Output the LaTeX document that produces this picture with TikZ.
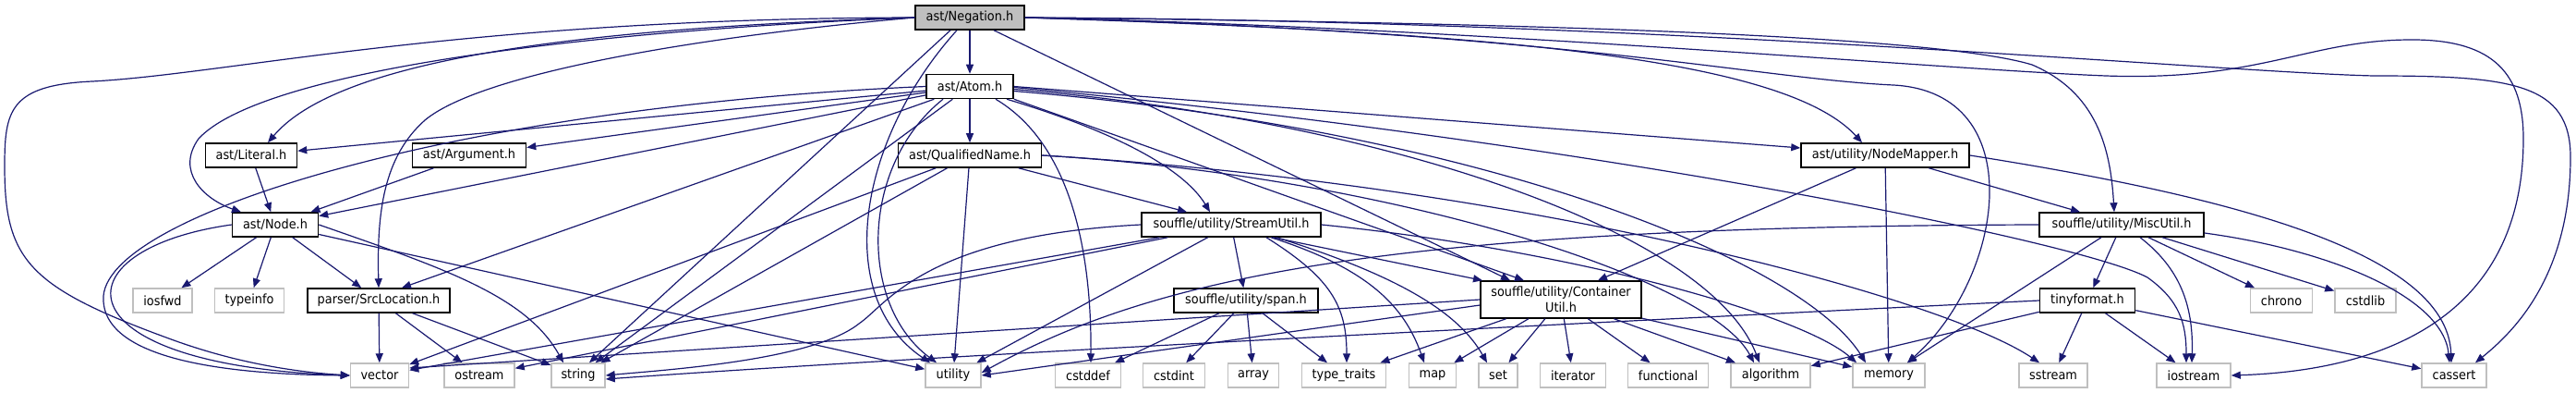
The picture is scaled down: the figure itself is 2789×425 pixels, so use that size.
\documentclass[tikz,border=0pt]{standalone}
\usepackage{fontspec}
\setmainfont{DejaVu Sans}[FakeStretch=0.92]
\usepackage{tikz}
\usetikzlibrary{arrows.meta}
\definecolor{edgeblue}{HTML}{191970}
\definecolor{leafgrey}{HTML}{BFBFBF}
\definecolor{rootgrey}{HTML}{BFBFBF}
\tikzset{
  hdr/.style={draw=black, fill=white, line width=1.5pt, minimum height=26pt, inner sep=0pt,
              align=center, font=\fontsize{14}{17}\selectfont},
  leaf/.style={hdr, draw=leafgrey},
  root/.style={hdr, fill=rootgrey},
  dep/.style={-{Triangle[length=10pt,width=8pt]}, line width=1.2pt, edgeblue},
}

\begin{document}
\begin{tikzpicture}[x=1pt, y=-1pt]
    \useasboundingbox (0,0) rectangle (2789,425);
    \fill[white] (0,0) rectangle (2789,425);

    \node[root, minimum width=118pt] (neg) at (1050,19) {ast/Negation.h};
    \node[hdr, minimum width=94pt] (atom) at (1050,93.5) {ast/Atom.h};

    \node[hdr, minimum width=99pt] (lit) at (272,168) {ast/Literal.h};
    \node[hdr, minimum width=123pt] (arg) at (508,168) {ast/Argument.h};
    \node[hdr, minimum width=155pt] (qn) at (1050,168) {ast/QualifiedName.h};
    \node[hdr, minimum width=182pt] (nm) at (2041,168) {ast/utility/NodeMapper.h};

    \node[hdr, minimum width=93pt] (node) at (298,243) {ast/Node.h};
    \node[hdr, minimum width=194pt] (su) at (1333,243) {souffle/utility/StreamUtil.h};
    \node[hdr, minimum width=178pt] (mu) at (2297,243) {souffle/utility/MiscUtil.h};

    \node[leaf, minimum width=64pt] (iosfwd) at (176,325) {iosfwd};
    \node[leaf, minimum width=75pt] (typeinfo) at (270,325) {typeinfo};
    \node[hdr, minimum width=154pt] (sl) at (410,325) {parser/SrcLocation.h};
    \node[hdr, minimum width=156pt] (span) at (1349,325) {souffle/utility/span.h};
    \node[hdr, minimum width=174pt, minimum height=40pt] (cu) at (1690,324) {souffle/utility/Container\\Util.h};
    \node[hdr, minimum width=103pt] (tf) at (2260,325) {tinyformat.h};
    \node[leaf, minimum width=67pt] (chrono) at (2470,325) {chrono};
    \node[leaf, minimum width=66pt] (cstdlib) at (2561,325) {cstdlib};

    \node[leaf, minimum width=63pt] (vector) at (411,406) {vector};
    \node[leaf, minimum width=76pt] (ostream) at (519,406) {ostream};
    \node[leaf, minimum width=58pt] (string) at (626,406) {string};
    \node[leaf, minimum width=60pt] (utility) at (1032,406) {utility};
    \node[leaf, minimum width=71pt] (cstddef) at (1178,406) {cstddef};
    \node[leaf, minimum width=67pt] (cstdint) at (1271,406) {cstdint};
    \node[leaf, minimum width=55pt] (array) at (1357,406) {array};
    \node[leaf, minimum width=91pt] (typetraits) at (1455,406) {type\_traits};
    \node[leaf, minimum width=51pt] (map) at (1551,406) {map};
    \node[leaf, minimum width=42pt] (set) at (1622,406) {set};
    \node[leaf, minimum width=71pt] (iterator) at (1703,406) {iterator};
    \node[leaf, minimum width=87pt] (functional) at (1806,406) {functional};
    \node[leaf, minimum width=86pt] (algorithm) at (1917,406) {algorithm};
    \node[leaf, minimum width=78pt] (memory) at (2045,406) {memory};
    \node[leaf, minimum width=74pt] (sstream) at (2223,406) {sstream};
    \node[leaf, minimum width=80pt] (iostream) at (2375,406) {iostream};
    \node[leaf, minimum width=70pt] (cassert) at (2657,406) {cassert};

    \draw[dep] (neg) -- (atom);
    \draw[dep] (neg.west) .. controls (650,30) and (370,60) .. ([xshift=18pt]lit.north);
    \draw[dep] (neg.west) .. controls (600,35) and (280,80) .. (215,150) .. controls (190,185) and (220,215) .. ([xshift=-37pt]node.north);
    \draw[dep] (neg.west) .. controls (750,40) and (520,80) .. (460,130) .. controls (415,170) and (408,230) .. (sl.north);
    \draw[dep] (neg.west) .. controls (500,20) and (250,80) .. (100,88) .. controls (10,92) and (5,120) .. (5,180) .. controls (5,280) and (30,310) .. (180,365) .. controls (260,395) and (330,403) .. (vector.west);
    \draw[dep] ([xshift=-21pt]neg.south) -- ([xshift=12pt]string.north);
    \draw[dep] ([xshift=-14pt]neg.south) .. controls (930,150) and (900,320) .. ([xshift=-25pt]utility.north);
    \draw[dep] ([xshift=26pt]neg.south) -- ([xshift=-55pt]cu.north);
    \draw[dep] (neg.east) .. controls (1600,35) and (1930,60) .. ([xshift=-25pt]nm.north);
    \draw[dep] (neg.east) .. controls (1700,25) and (2100,40) .. (2200,70) .. controls (2270,100) and (2285,160) .. ([xshift=-8pt]mu.north);
    \draw[dep] (neg.east) .. controls (1700,35) and (1900,85) .. (2050,92) .. controls (2200,100) and (2170,300) .. ([xshift=20pt]memory.north);
    \draw[dep] (neg.east) .. controls (1600,30) and (2100,75) .. (2280,82) .. controls (2450,88) and (2500,42) .. (2615,43) .. controls (2700,44) and (2732,80) .. (2732,150) .. controls (2732,330) and (2600,400) .. (iostream.east);
    \draw[dep] (neg.east) .. controls (1800,22) and (2400,78) .. (2570,82) .. controls (2720,82) and (2783,90) .. (2783,170) .. controls (2783,300) and (2720,360) .. ([xshift=23pt]cassert.north);

    \draw[dep] (atom) -- (qn);
    \draw[dep] (atom) -- (lit);
    \draw[dep] (atom) -- (arg);
    \draw[dep] (atom) -- (node);
    \draw[dep] (atom) -- ([xshift=25pt]sl.north);
    \draw[dep] (atom.west) .. controls (500,115) and (120,230) .. (112,320) .. controls (108,390) and (250,405) .. (vector.west);
    \draw[dep] (atom) -- (string);
    \draw[dep] ([xshift=-29pt]atom.south) .. controls (930,180) and (930,330) .. ([xshift=-18pt]utility.north);
    \draw[dep] ([xshift=28pt]atom.south) .. controls (1150,150) and (1182,250) .. ([xshift=3pt]cstddef.north);
    \draw[dep] ([xshift=40pt]atom.south) .. controls (1200,140) and (1280,180) .. ([xshift=-23pt]su.north);
    \draw[dep] (atom.south east) -- ([xshift=-40pt]cu.north);
    \draw[dep] (atom.east) -- ([yshift=8pt]nm.west);
    \draw[dep] ([yshift=-3pt]atom.east) .. controls (1500,130) and (1850,250) .. ([xshift=-12pt]algorithm.north);
    \draw[dep] ([yshift=-5pt]atom.east) .. controls (1600,140) and (1950,280) .. ([xshift=-25pt]memory.north);
    \draw[dep] ([yshift=-1pt]atom.east) .. controls (1700,150) and (2250,260) .. (2325,300) .. controls (2360,325) and (2367,350) .. ([xshift=-8pt]iostream.north);

    \draw[dep] (qn) -- ([xshift=-48pt]su.north);
    \draw[dep] (qn) -- (vector);
    \draw[dep] (qn) -- (string);
    \draw[dep] (qn) -- (utility);
    \draw[dep] (qn.east) .. controls (1500,190) and (1850,300) .. ([xshift=-18pt]algorithm.north);
    \draw[dep] (qn.east) .. controls (1650,200) and (2100,320) .. ([xshift=-15pt]sstream.north);

    \draw[dep] (su) -- (span);
    \draw[dep] ([xshift=45pt]su.south) -- ([xshift=-85pt]cu.north);
    \draw[dep] ([xshift=38pt]su.south) .. controls (1440,300) and (1458,330) .. ([xshift=3pt]typetraits.north);
    \draw[dep] ([xshift=43pt]su.south) .. controls (1480,290) and (1520,330) .. ([xshift=-9pt]map.north);
    \draw[dep] ([xshift=49pt]su.south) .. controls (1520,300) and (1580,340) .. ([xshift=-12pt]set.north);
    \draw[dep] (su) -- (vector);
    \draw[dep] (su) -- (ostream);
    \draw[dep] (su) -- (utility);
    \draw[dep] (su.west) .. controls (1000,255) and (960,330) .. (930,350) .. controls (880,390) and (720,400) .. (string.east);
    \draw[dep] (su.east) .. controls (1700,270) and (1950,340) .. ([xshift=-35pt]memory.north);

    \draw[dep] (span) -- (cstddef);
    \draw[dep] (span) -- (cstdint);
    \draw[dep] (span) -- (array);
    \draw[dep] (span) -- (typetraits);

    \draw[dep] (cu) -- (typetraits);
    \draw[dep] (cu) -- (map);
    \draw[dep] (cu) -- (set);
    \draw[dep] (cu) -- (iterator);
    \draw[dep] (cu) -- (functional);
    \draw[dep] (cu) -- (algorithm);
    \draw[dep] (cu) -- (memory);
    \draw[dep] (cu.west) -- ([yshift=8pt]vector.east);
    \draw[dep] ([yshift=-6pt]cu.west) -- (utility.east);

    \draw[dep] (mu) -- (tf);
    \draw[dep] (mu) -- (chrono);
    \draw[dep] (mu) -- (cstdlib);
    \draw[dep] ([xshift=-22pt]mu.south) -- ([xshift=20pt]memory.north);
    \draw[dep] ([yshift=-9pt]mu.east) .. controls (2520,270) and (2645,320) .. ([xshift=-5pt]cassert.north);
    \draw[dep] ([xshift=20pt]mu.south) .. controls (2360,290) and (2375,330) .. ([xshift=-2pt]iostream.north);
    \draw[dep] (mu.west) .. controls (1500,245) and (1250,300) .. ([yshift=3pt]utility.east);

    \draw[dep] (tf) -- (sstream);
    \draw[dep] (tf) -- (iostream);
    \draw[dep] (tf) -- (cassert);
    \draw[dep] (tf) -- (algorithm);
    \draw[dep] (tf.west) .. controls (1700,350) and (1000,385) .. ([yshift=-4pt]string.east);

    \draw[dep] (nm) -- ([xshift=40pt]cu.north);
    \draw[dep] (nm) -- (memory);
    \draw[dep] (nm) -- ([xshift=-45pt]mu.north);
    \draw[dep] (nm.east) .. controls (2400,210) and (2650,270) .. ([xshift=-3pt]cassert.north);

    \draw[dep] (node) -- (iosfwd);
    \draw[dep] (node) -- (typeinfo);
    \draw[dep] (node) -- (sl);
    \draw[dep] (node.west) .. controls (60,270) and (60,395) .. (vector.west);
    \draw[dep] (node.east) .. controls (480,290) and (570,320) .. ([xshift=-16pt]string.north);
    \draw[dep] (node) -- (utility);

    \draw[dep] (lit) -- (node);
    \draw[dep] (arg) -- (node);

    \draw[dep] (sl) -- (vector);
    \draw[dep] (sl) -- (ostream);
    \draw[dep] (sl) -- (string);
\end{tikzpicture}
\end{document}
